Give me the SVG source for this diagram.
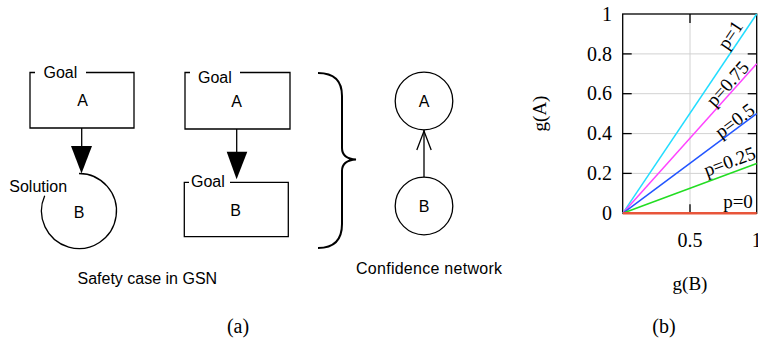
<svg xmlns="http://www.w3.org/2000/svg" width="758" height="344" viewBox="0 0 758 344">
<style>
.s{font-family:"Liberation Sans",Arial,sans-serif;font-size:16px;fill:#000}
.t{font-family:"Liberation Serif","Times New Roman",serif;font-size:20px;fill:#000}
.p{font-family:"Liberation Serif","Times New Roman",serif;font-size:19px;fill:#000}
.ln{fill:none;stroke:#000;stroke-width:1.3}
.grid{stroke:#d2d2d2;stroke-width:1}
.tick{stroke:#000;stroke-width:1.3}
</style>
<rect width="758" height="344" fill="#fff"/>

<!-- (a) GSN safety case -->
<g id="goalA1">
<path class="ln" d="M35,72.5 H30 V128 H134 V72.5 H86"/>
<text class="s" x="43.5" y="78.3">Goal</text>
<text class="s" x="82.7" y="106" text-anchor="middle">A</text>
</g>
<g id="solutionB">
<path class="ln" d="M79,173.5 A37.5,37.5 0 1 1 44.7,195.8"/>
<text class="s" x="9.3" y="191.5">Solution</text>
<text class="s" x="79" y="218" text-anchor="middle">B</text>
</g>
<g id="goalA2">
<path class="ln" d="M190,72.5 H185 V129 H290 V72.5 H240"/>
<text class="s" x="198" y="82.5">Goal</text>
<text class="s" x="236.7" y="106.7" text-anchor="middle">A</text>
</g>
<g id="goalB2">
<path class="ln" d="M189,182.3 H184.3 V236.7 H288.3 V182.3 H230"/>
<text class="s" x="191" y="186.7">Goal</text>
<text class="s" x="235.7" y="215.8" text-anchor="middle">B</text>
</g>
<g id="brace">
<path fill="none" stroke="#000" stroke-width="2" d="M318,73 C334,73 342,80 342,96 L342,148 C342,155 347,159 356,159.5 C347,160 342,164 342,171 L342,224 C342,240 334,248 318,248"/>
</g>
<g id="cnA">
<circle class="ln" cx="424" cy="101" r="28.8"/>
<text class="s" x="424" y="106.7" text-anchor="middle">A</text>
</g>
<g id="cnB">
<circle class="ln" cx="424" cy="206" r="28.8"/>
<text class="s" x="424" y="211.7" text-anchor="middle">B</text>
</g>
<g id="connectors">
<line class="ln" x1="81.7" y1="128" x2="81.7" y2="147"/>
<polygon points="71,146 92,146 81.5,173.5" fill="#000"/>
<line class="ln" x1="236.7" y1="129" x2="236.7" y2="152"/>
<polygon points="226.7,151.7 247.3,151.7 236.6,179.3" fill="#000"/>
<line class="ln" x1="424" y1="177.2" x2="424" y2="130"/>
<polyline class="ln" points="416.8,150 424,131 431.2,150"/>
</g>
<text class="s" x="77.5" y="283.5">Safety case in GSN</text>
<text class="s" x="356" y="273.5" textLength="146">Confidence network</text>

<!-- (b) plot -->
<g id="plot">
<g class="grid">
<line x1="690" y1="14" x2="690" y2="213.3"/>
<line x1="622.7" y1="53.9" x2="756.7" y2="53.9"/>
<line x1="622.7" y1="93.7" x2="756.7" y2="93.7"/>
<line x1="622.7" y1="133.6" x2="756.7" y2="133.6"/>
<line x1="622.7" y1="173.4" x2="756.7" y2="173.4"/>
</g>
<g class="tick">
<line x1="622.7" y1="53.9" x2="631.7" y2="53.9"/>
<line x1="622.7" y1="93.7" x2="631.7" y2="93.7"/>
<line x1="622.7" y1="133.6" x2="631.7" y2="133.6"/>
<line x1="622.7" y1="173.4" x2="631.7" y2="173.4"/>
<line x1="756.7" y1="53.9" x2="747.7" y2="53.9"/>
<line x1="756.7" y1="93.7" x2="747.7" y2="93.7"/>
<line x1="756.7" y1="133.6" x2="747.7" y2="133.6"/>
<line x1="756.7" y1="173.4" x2="747.7" y2="173.4"/>
<line x1="690" y1="14" x2="690" y2="23"/>
<line x1="690" y1="213.3" x2="690" y2="204.3"/>
</g>
<rect x="622.7" y="14" width="134" height="199.3" fill="none" stroke="#000" stroke-width="1.3"/>
<g stroke-width="1.5" fill="none">
<line x1="622.7" y1="213.3" x2="756.7" y2="14" stroke="#22ddff"/>
<line x1="622.7" y1="213.3" x2="756.7" y2="63.8" stroke="#ff44ff"/>
<line x1="622.7" y1="213.3" x2="756.7" y2="113.65" stroke="#2255ff"/>
<line x1="622.7" y1="213.3" x2="756.7" y2="163.5" stroke="#22dd22"/>
<line x1="622.7" y1="213.3" x2="756.7" y2="213.3" stroke="#e8553a" stroke-width="2.5"/>
</g>
<g class="t" text-anchor="end">
<text x="612" y="20.5">1</text>
<text x="612" y="60.5">0.8</text>
<text x="612" y="100.3">0.6</text>
<text x="612" y="140.2">0.4</text>
<text x="612" y="180">0.2</text>
<text x="612" y="220">0</text>
</g>
<g class="t" text-anchor="middle">
<text x="690" y="247">0.5</text>
<text x="756.7" y="247">1</text>
</g>
<text class="p" x="690" y="290" text-anchor="middle">g(B)</text>
<text class="p" transform="translate(546,113.5) rotate(-90)" text-anchor="middle">g(A)</text>
<g class="p" text-anchor="middle">
<text transform="translate(738.8,40.7) rotate(-56)" y="-4">p=1</text>
<text transform="translate(733.8,89.3) rotate(-48.1)" y="-2">p=0.75</text>
<text transform="translate(739.2,126.6) rotate(-36.6)" y="-1">p=0.5</text>
<text transform="translate(733.5,172.1) rotate(-20.4)" y="-5">p=0.25</text>
<text x="738" y="208.3">p=0</text>
</g>
</g>
<text class="t" x="238" y="333" text-anchor="middle" font-size="21">(a)</text>
<text class="t" x="664" y="333" text-anchor="middle" font-size="21">(b)</text>
</svg>
